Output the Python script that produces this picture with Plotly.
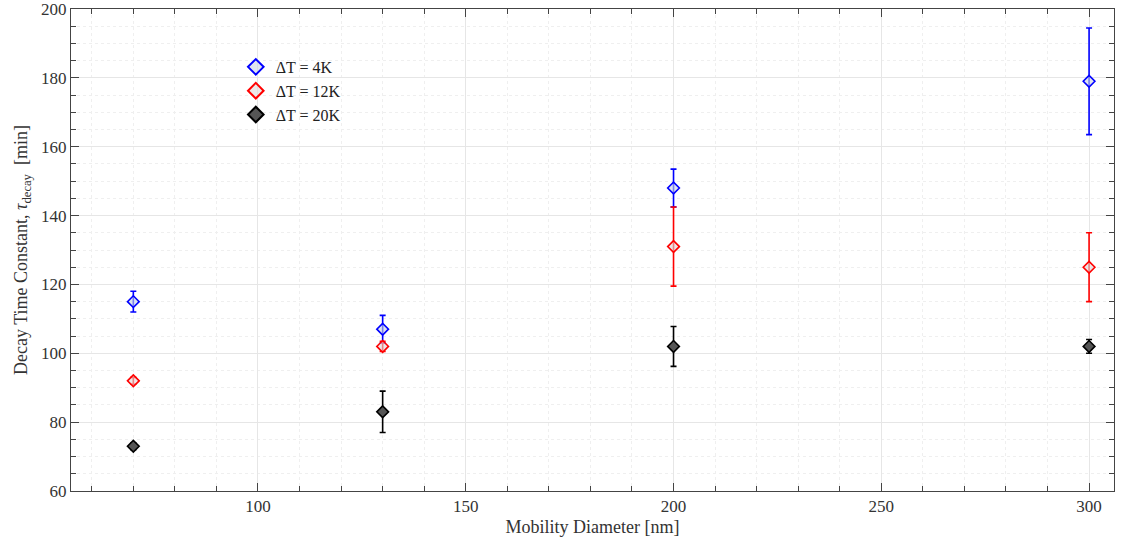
import plotly.graph_objects as go

diam = [70, 130, 200, 300]
tau_4K = [115, 107, 148, 179]
err_4K = [3, 4, 5.5, 15.5]
tau_12K = [92, 102, 131, 125]
err_12K = [1, 1.5, 11.5, 10]
tau_20K = [73, 83, 102, 102]
err_20K = [1, 6, 5.8, 2]

series = [
    ("ΔT = 4K", tau_4K, err_4K, "#0000ff", "rgba(200,210,230,0.6)"),
    ("ΔT = 12K", tau_12K, err_12K, "#ff0000", "rgba(225,215,215,0.6)"),
    ("ΔT = 20K", tau_20K, err_20K, "#000000", "#555555"),
]

fig = go.Figure()
for name, y, e, c, fill in series:
    fig.add_trace(go.Scatter(
        x=diam, y=y, name=name, mode="markers",
        marker=dict(symbol="diamond", size=9, color=fill, line=dict(color=c, width=1.6)),
        error_y=dict(type="data", array=e, visible=True, color=c, thickness=1.6, width=3),
    ))

font = "Liberation Serif, DejaVu Serif, serif"
axis_common = dict(
    showline=True, linecolor="#444", linewidth=1, mirror="ticks",
    ticks="inside", ticklen=8, tickcolor="#444", tickwidth=1,
    showgrid=True, gridcolor="#e6e6e6", gridwidth=1, zeroline=False,
    tickfont=dict(family=font, size=17, color="#333"), automargin=False,
    ticklabeloverflow="allow",
)
fig.update_xaxes(
    range=[55, 306], dtick=50, tick0=0,
    title=dict(text="Mobility Diameter [nm]", font=dict(family=font, size=18, color="#333"), standoff=4),
    minor=dict(dtick=10, ticks="inside", ticklen=5, tickcolor="#444", showgrid=True, gridcolor="#efefef", griddash="dot"),
    **axis_common,
)
fig.update_yaxes(
    range=[60, 200], dtick=20,
    title=dict(text="Decay Time Constant, <i>τ</i><sub>decay</sub>  [min]", font=dict(family=font, size=18, color="#333"), standoff=8),
    minor=dict(dtick=5, ticks="inside", ticklen=5, tickcolor="#444", showgrid=True, gridcolor="#efefef", griddash="dot"),
    **axis_common,
)
fig.update_layout(
    width=1128, height=541,
    margin=dict(l=71, r=14, t=9, b=50),
    plot_bgcolor="white", paper_bgcolor="white",
    legend=dict(x=0.158, y=0.915, xanchor="left", yanchor="top", bgcolor="rgba(0,0,0,0)",
                font=dict(family=font, size=16, color="#222"), tracegroupgap=0,
                itemwidth=30, itemsizing="constant"),
    showlegend=True,
)
fig.write_html("out.html")
